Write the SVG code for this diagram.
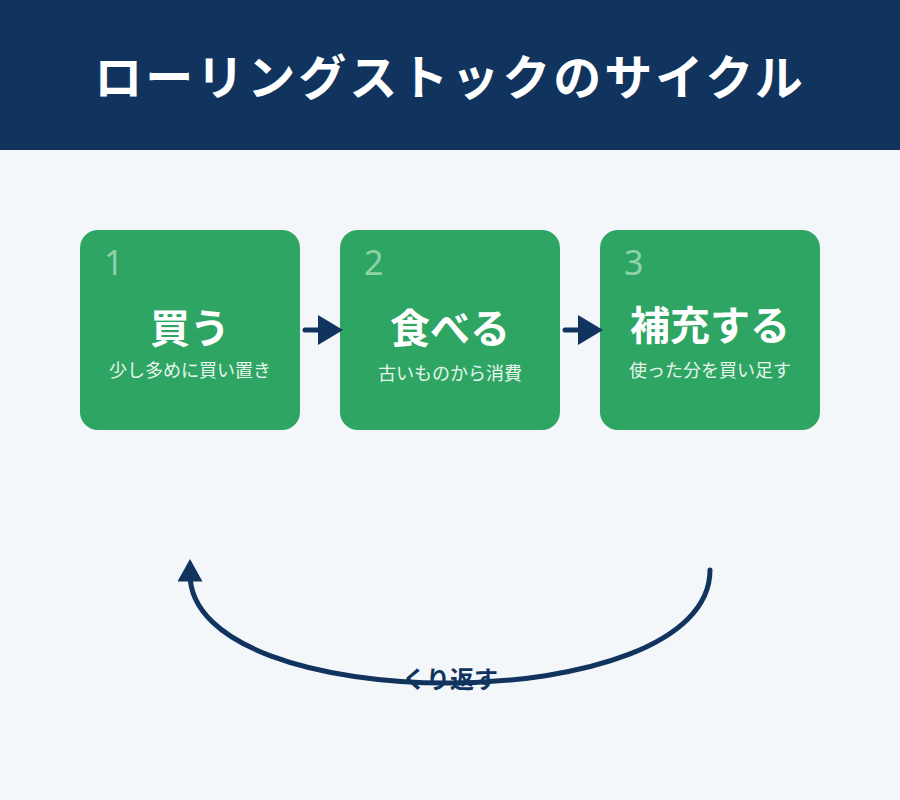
<svg xmlns="http://www.w3.org/2000/svg" width="900" height="800" viewBox="0 0 900 800">
<style>
.jp{font-family:"Noto Sans CJK JP","Noto Sans",sans-serif}
.box{fill:#2fa564}
.num{font-family:"Noto Sans",sans-serif;font-size:34px;fill:#8ed3a8}
.ttl{font-size:40px;font-weight:bold;fill:#fff;text-anchor:middle}
.sub{font-size:18px;fill:#e6f5ec;text-anchor:middle}
.con{stroke:#10345e;stroke-width:5;fill:none;stroke-linecap:round}
</style>
<defs>
<marker id="ah" markerWidth="6" markerHeight="6" refX="2" refY="3" orient="auto" markerUnits="strokeWidth"><path d="M0,0 L5,3 L0,6 Z" fill="#10345e"/></marker>
<marker id="ah2" markerWidth="5" markerHeight="5" refX="1.5" refY="2.5" orient="auto" markerUnits="strokeWidth"><path d="M0,0 L4.5,2.5 L0,5 Z" fill="#10345e"/></marker>
</defs>
<rect width="900" height="800" fill="#f3f7fa"/>
<rect width="900" height="150" fill="#10345e"/>
<text x="450" y="95" class="jp" font-size="48" font-weight="bold" fill="#fff" text-anchor="middle" letter-spacing="3">ローリングストックのサイクル</text>
<g id="n1"><rect class="box" x="80" y="230" width="220" height="200" rx="18"/><text class="num" x="104" y="275">1</text><text class="jp ttl" x="190" y="343">買う</text><text class="jp sub" x="190" y="377">少し多めに買い置き</text></g>
<g id="n2"><rect class="box" x="340" y="230" width="220" height="200" rx="18"/><text class="num" x="364" y="275">2</text><text class="jp ttl" x="450" y="343">食べる</text><text class="jp sub" x="450" y="380">古いものから消費</text></g>
<g id="n3"><rect class="box" x="600" y="230" width="220" height="200" rx="18"/><text class="num" x="624" y="275">3</text><text class="jp ttl" x="710" y="340">補充する</text><text class="jp sub" x="710" y="377">使った分を買い足す</text></g>
<g id="connectors">
<path class="con" d="M305,330 L328,330" marker-end="url(#ah)"/>
<path class="con" d="M565,330 L588,330" marker-end="url(#ah)"/>
<path class="con" d="M710,570 C710,720 190,720 190,574" marker-end="url(#ah2)"/>
<text class="jp" x="450" y="688" font-size="24" font-weight="bold" fill="#10345e" text-anchor="middle">くり返す</text>
</g>
</svg>
